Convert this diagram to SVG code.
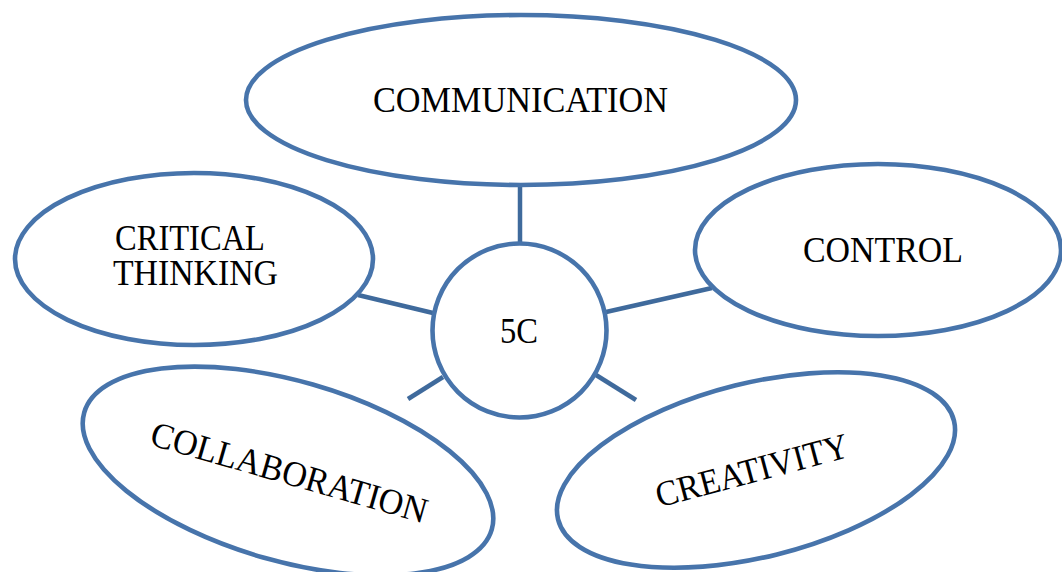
<svg xmlns="http://www.w3.org/2000/svg" width="1062" height="572" viewBox="0 0 1062 572">
  <style>
    .node { fill: #ffffff; stroke: #4774ab; stroke-width: 4.6; }
    .link { stroke: #3f6a9c; stroke-width: 4.5; fill: none; }
    .label { font-family: "Liberation Serif", "Times New Roman", serif; font-size: 36px; fill: #000000; text-anchor: middle; }
  </style>
  <rect width="1062" height="572" fill="#ffffff"/>

  <!-- connectors from the 5C hub -->
  <g id="connectors">
    <line class="link" x1="520" y1="186" x2="520" y2="244"/>
    <line class="link" x1="358" y1="295" x2="433" y2="313"/>
    <line class="link" x1="606" y1="312" x2="712" y2="288"/>
    <line class="link" x1="443" y1="377" x2="408" y2="399"/>
    <line class="link" x1="596" y1="375" x2="636" y2="400"/>
  </g>

  <g id="communication">
    <ellipse class="node" cx="521" cy="100" rx="275" ry="85"/>
    <text class="label" x="520.5" y="112" textLength="295" lengthAdjust="spacingAndGlyphs">COMMUNICATION</text>
  </g>

  <g id="critical-thinking">
    <ellipse class="node" cx="194" cy="259" rx="179" ry="86"/>
    <text class="label" x="190" y="250" textLength="150" lengthAdjust="spacingAndGlyphs">CRITICAL</text>
    <text class="label" x="195.5" y="285" textLength="165" lengthAdjust="spacingAndGlyphs">THINKING</text>
  </g>

  <g id="control">
    <ellipse class="node" cx="878" cy="250" rx="183" ry="86"/>
    <text class="label" x="883" y="262" textLength="160" lengthAdjust="spacingAndGlyphs">CONTROL</text>
  </g>

  <g id="hub">
    <circle class="node" cx="519.5" cy="330.5" r="87"/>
    <text class="label" x="519" y="343" textLength="38" lengthAdjust="spacingAndGlyphs">5C</text>
  </g>

  <g id="collaboration">
    <ellipse class="node" cx="288" cy="471" rx="212" ry="90" transform="rotate(16 288 471)"/>
    <text class="label" transform="translate(286 484) rotate(16)" textLength="286" lengthAdjust="spacingAndGlyphs">COLLABORATION</text>
  </g>

  <g id="creativity">
    <ellipse class="node" cx="756" cy="470" rx="204" ry="87" transform="rotate(-14 756 470)"/>
    <text class="label" transform="translate(755 482) rotate(-15)" textLength="198" lengthAdjust="spacingAndGlyphs">CREATIVITY</text>
  </g>
</svg>
